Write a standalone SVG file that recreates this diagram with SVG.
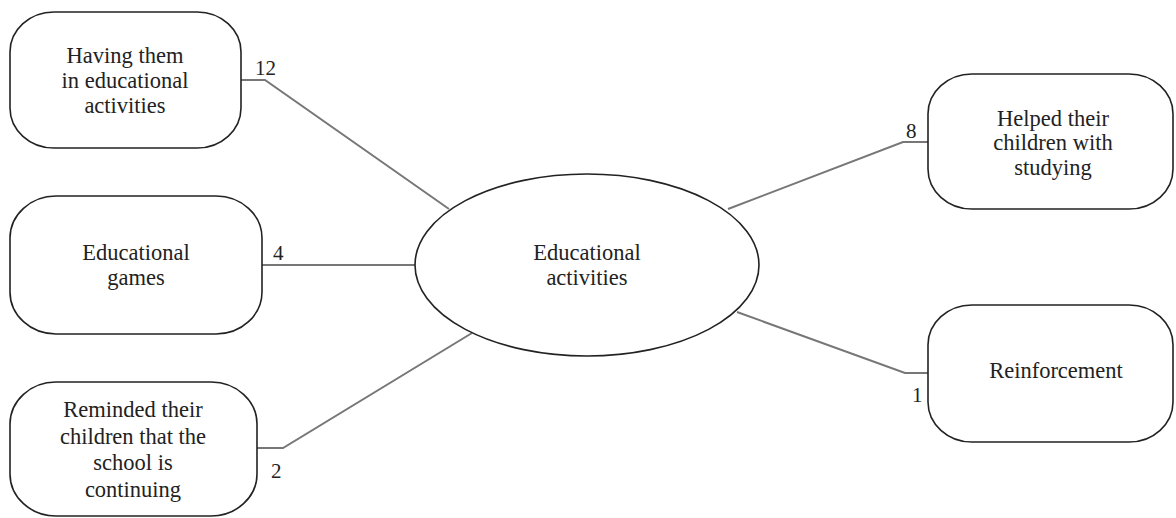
<svg xmlns="http://www.w3.org/2000/svg" width="1176" height="518" viewBox="0 0 1176 518">
<defs>
<style type="text/css">
.box{fill:#fff;stroke:#222;stroke-width:1.6}
.t{font-size:22.5px;fill:#222;text-anchor:middle}
.n{font-size:21px;fill:#222}
.c{fill:none;stroke:#777;stroke-width:2}
</style>
</defs>
<rect width="1176" height="518" fill="#fff"/>
<g font-family="Liberation Serif, DejaVu Serif, serif">
<g id="connectors">
<path class="c" d="M241,80 H265 L449,209"/>
<path class="c" d="M262,265 H415"/>
<path class="c" d="M257,448 H283 L472,333"/>
<path class="c" d="M928,142 H903 L728,209"/>
<path class="c" d="M928,373 H905 L737,312"/>
<text class="n" x="255" y="75">12</text>
<text class="n" x="273" y="260">4</text>
<text class="n" x="271" y="478">2</text>
<text class="n" x="906" y="138">8</text>
<text class="n" x="912" y="402">1</text>
</g>
<g id="center">
<ellipse class="box" cx="587" cy="265" rx="172" ry="91"/>
<text class="t" x="587" y="260">Educational</text>
<text class="t" x="587" y="285">activities</text>
</g>
<g id="n1">
<rect class="box" x="10" y="12" width="231" height="136" rx="44" ry="40"/>
<text class="t" x="125" y="63">Having them</text>
<text class="t" x="125" y="88">in educational</text>
<text class="t" x="125" y="113">activities</text>
</g>
<g id="n2">
<rect class="box" x="10" y="196" width="252" height="138" rx="46" ry="42"/>
<text class="t" x="136" y="260">Educational</text>
<text class="t" x="136" y="285">games</text>
</g>
<g id="n3">
<rect class="box" x="10" y="382" width="247" height="134" rx="46" ry="42"/>
<text class="t" x="133" y="417">Reminded their</text>
<text class="t" x="133" y="444">children that the</text>
<text class="t" x="133" y="470">school is</text>
<text class="t" x="133" y="497">continuing</text>
</g>
<g id="n4">
<rect class="box" x="928" y="74" width="245" height="135" rx="44" ry="40"/>
<text class="t" x="1053" y="126">Helped their</text>
<text class="t" x="1053" y="150">children with</text>
<text class="t" x="1053" y="175">studying</text>
</g>
<g id="n5">
<rect class="box" x="928" y="305" width="245" height="137" rx="44" ry="40"/>
<text class="t" x="1056" y="378">Reinforcement</text>
</g>
</g>
</svg>
